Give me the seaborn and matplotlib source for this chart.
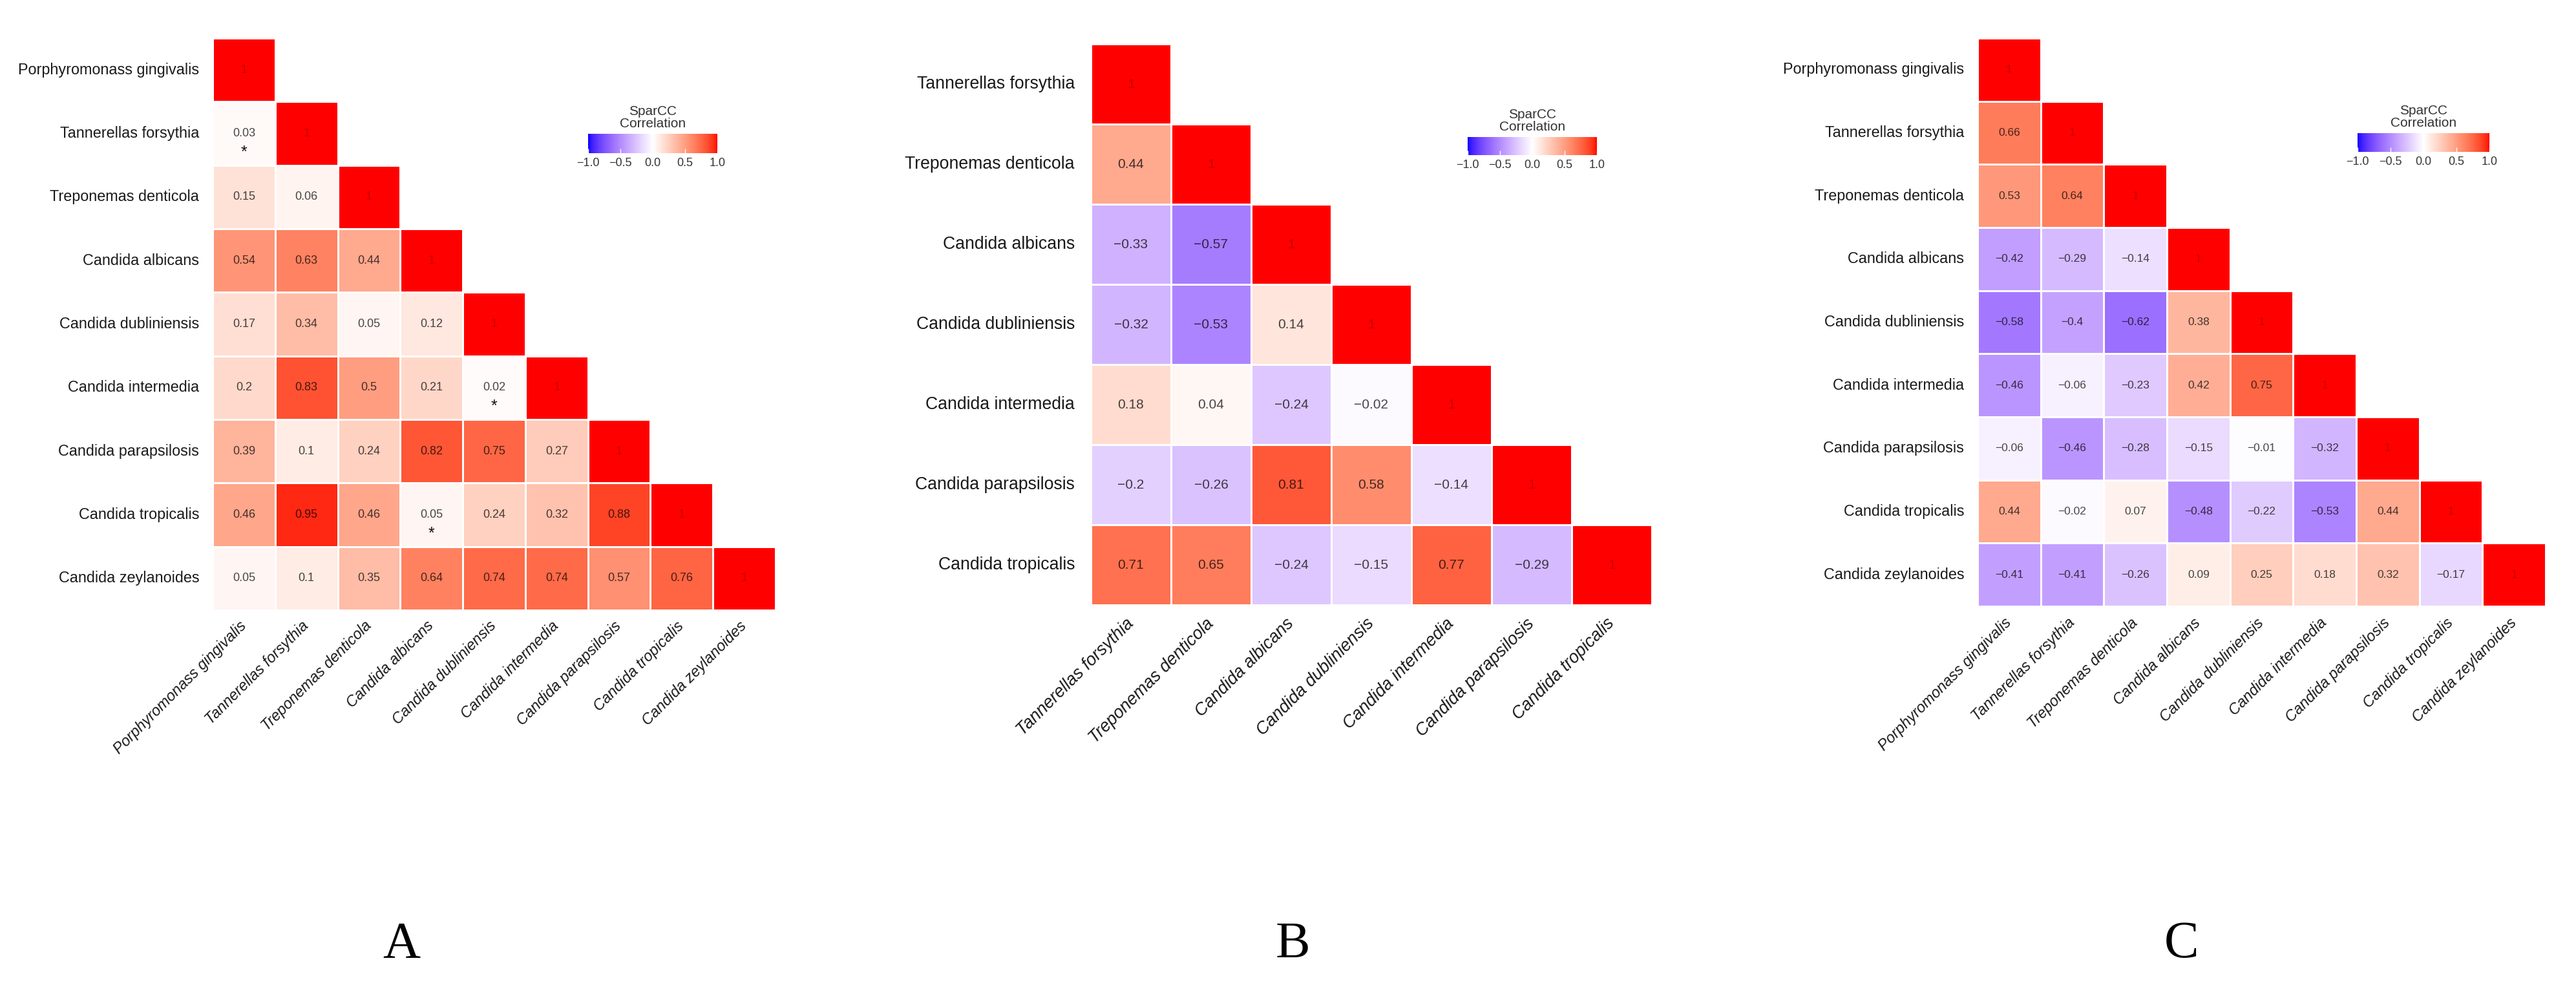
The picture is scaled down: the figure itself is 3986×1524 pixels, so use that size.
import numpy as np
import pandas as pd
import seaborn as sns
import matplotlib.pyplot as plt
from matplotlib.colors import ListedColormap, Normalize

# --- data -------------------------------------------------------------
TAXA_AC = [
    "Porphyromonass gingivalis", "Tannerellas forsythia", "Treponemas denticola",
    "Candida albicans", "Candida dubliniensis", "Candida intermedia",
    "Candida parapsilosis", "Candida tropicalis", "Candida zeylanoides",
]
TAXA_B = [
    "Tannerellas forsythia", "Treponemas denticola", "Candida albicans",
    "Candida dubliniensis", "Candida intermedia", "Candida parapsilosis",
    "Candida tropicalis",
]

# lower triangle rows (diagonal included)
VALUES_A = [
    [1],
    [0.03, 1],
    [0.15, 0.06, 1],
    [0.54, 0.63, 0.44, 1],
    [0.17, 0.34, 0.05, 0.12, 1],
    [0.2, 0.83, 0.5, 0.21, 0.02, 1],
    [0.39, 0.1, 0.24, 0.82, 0.75, 0.27, 1],
    [0.46, 0.95, 0.46, 0.05, 0.24, 0.32, 0.88, 1],
    [0.05, 0.1, 0.35, 0.64, 0.74, 0.74, 0.57, 0.76, 1],
]
STARS_A = [(1, 0), (5, 4), (7, 3)]  # (row, col) marked with *

VALUES_B = [
    [1],
    [0.44, 1],
    [-0.33, -0.57, 1],
    [-0.32, -0.53, 0.14, 1],
    [0.18, 0.04, -0.24, -0.02, 1],
    [-0.2, -0.26, 0.81, 0.58, -0.14, 1],
    [0.71, 0.65, -0.24, -0.15, 0.77, -0.29, 1],
]

VALUES_C = [
    [1],
    [0.66, 1],
    [0.53, 0.64, 1],
    [-0.42, -0.29, -0.14, 1],
    [-0.58, -0.4, -0.62, 0.38, 1],
    [-0.46, -0.06, -0.23, 0.42, 0.75, 1],
    [-0.06, -0.46, -0.28, -0.15, -0.01, -0.32, 1],
    [0.44, -0.02, 0.07, -0.48, -0.22, -0.53, 0.44, 1],
    [-0.41, -0.41, -0.26, 0.09, 0.25, 0.18, 0.32, -0.17, 1],
]

CBAR_TICKS = [-1.0, -0.5, 0.0, 0.5, 1.0]
PANEL_LETTERS = ["A", "B", "C"]

W, H = 3986, 1524


# --- blue-white-red ramp interpolated in CIELAB (like ggplot gradient2) ---
def srgb_to_lab(rgb):
    c = np.asarray(rgb, dtype=float)
    lin = np.where(c <= 0.04045, c / 12.92, ((c + 0.055) / 1.055) ** 2.4)
    m = np.array([[0.4124, 0.3576, 0.1805],
                  [0.2126, 0.7152, 0.0722],
                  [0.0193, 0.1192, 0.9505]])
    xyz = m @ lin / np.array([0.95047, 1.0, 1.08883])
    d = 6 / 29
    f = np.where(xyz > d ** 3, np.cbrt(xyz), xyz / (3 * d ** 2) + 4 / 29)
    return np.array([116 * f[1] - 16, 500 * (f[0] - f[1]), 200 * (f[1] - f[2])])


def lab_to_srgb(lab):
    L, a, b = lab
    fy = (L + 16) / 116
    f = np.array([fy + a / 500, fy, fy - b / 200])
    d = 6 / 29
    xyz = np.where(f > d, f ** 3, 3 * d ** 2 * (f - 4 / 29))
    xyz = xyz * np.array([0.95047, 1.0, 1.08883])
    minv = np.array([[3.2406, -1.5372, -0.4986],
                     [-0.9689, 1.8758, 0.0415],
                     [0.0557, -0.2040, 1.0570]])
    lin = np.clip(minv @ xyz, 0, 1)
    c = np.where(lin <= 0.0031308, 12.92 * lin, 1.055 * lin ** (1 / 2.4) - 0.055)
    return np.clip(c, 0, 1)


LAB_BLUE = srgb_to_lab([0, 0, 1])
LAB_WHITE = srgb_to_lab([1, 1, 1])
LAB_RED = srgb_to_lab([1, 0, 0])
ramp = []
for v in np.linspace(-1, 1, 256):
    end = LAB_BLUE if v < 0 else LAB_RED
    ramp.append(lab_to_srgb(LAB_WHITE + abs(v) * (end - LAB_WHITE)))
CMAP = ListedColormap(ramp)
NORM = Normalize(-1, 1)

plt.rcParams['font.family'] = ['Liberation Sans', 'DejaVu Sans']
plt.rcParams['axes.unicode_minus'] = True


def px_rect(left, top, right, bottom):
    return [left / W, 1 - bottom / H, (right - left) / W, (bottom - top) / H]


def lower_frame(rows, taxa):
    mat = np.full((len(taxa), len(taxa)), np.nan)
    for i, row in enumerate(rows):
        mat[i, :len(row)] = row
    return pd.DataFrame(mat, index=taxa, columns=taxa)


def fmt_value(v):
    if np.isnan(v):
        return ""
    return f"{v:g}".replace("-", "\u2212")


def draw_panel(fig, df, box, cbar_box, fs_label, fs_annot, lw, pad_y, pad_x, stars=()):
    ax = fig.add_axes(px_rect(*box))
    cax = fig.add_axes(px_rect(*cbar_box))
    labels = np.vectorize(fmt_value)(df.values)

    sns.heatmap(df, ax=ax, cmap=CMAP, vmin=-1, vmax=1,
                annot=labels, fmt="", annot_kws={'fontsize': fs_annot},
                linewidths=lw, linecolor='white',
                xticklabels=True, yticklabels=True,
                cbar_ax=cax,
                cbar_kws={'orientation': 'horizontal', 'ticks': CBAR_TICKS})

    # value text in a darkened shade of its cell colour;
    # the diagonal "1" is only a faint mark on the red cell
    for t in ax.texts:
        x, y = t.get_position()
        i, j = int(y), int(x)
        v = df.values[i, j]
        if i == j:
            t.set_color((0.78, 0.0, 0.0))
        else:
            t.set_color(tuple(np.array(CMAP(NORM(v))[:3]) * 0.28))

    for (i, j) in stars:
        ax.text(j + 0.5, i + 0.8, "*", ha='center', va='center',
                fontsize=fs_annot + 5, color='#111111')

    ax.tick_params(axis='y', length=0, pad=pad_y, labelsize=fs_label,
                   labelcolor='#1a1a1a', labelrotation=0)
    ax.tick_params(axis='x', length=0, pad=pad_x, labelsize=fs_label,
                   labelcolor='#1a1a1a')
    for lab in ax.get_xticklabels():
        lab.set_rotation(45)
        lab.set_ha('right')
        lab.set_va('center')
        lab.set_rotation_mode('anchor')
        lab.set_fontstyle('italic')
    ax.set_xlabel("")
    ax.set_ylabel("")

    cbar = ax.collections[0].colorbar
    cbar.outline.set_visible(False)
    cax.tick_params(length=5, width=1, direction='in', color='white',
                    labelsize=13, labelcolor='#333333', pad=5)
    cax.set_title("SparCC\nCorrelation", fontsize=15, color='#333333',
                  pad=7, linespacing=1.05)
    return ax


fig = plt.figure(figsize=(W / 100, H / 100), dpi=100)

draw_panel(fig, lower_frame(VALUES_A, TAXA_AC),
           (329, 59, 1200, 944), (910, 207, 1110, 237),
           fs_label=16.8, fs_annot=13, lw=1.0, pad_y=15, pad_x=15, stars=STARS_A)
draw_panel(fig, lower_frame(VALUES_B, TAXA_B),
           (1688, 68, 2556, 936), (2271, 212, 2471, 240),
           fs_label=19.2, fs_annot=15, lw=2.0, pad_y=18, pad_x=18)
draw_panel(fig, lower_frame(VALUES_C, TAXA_AC),
           (3060, 59, 3939, 938), (3648, 206, 3852, 235),
           fs_label=16.8, fs_annot=12.5, lw=2.0, pad_y=15, pad_x=16)

for letter, x in zip(PANEL_LETTERS, [621, 2000, 3376]):
    fig.text(x / W, 1 - 1462 / H, letter, ha='center', va='center',
             fontsize=58, family=['Liberation Serif', 'DejaVu Serif'])

fig.savefig("out.png", dpi=100)
